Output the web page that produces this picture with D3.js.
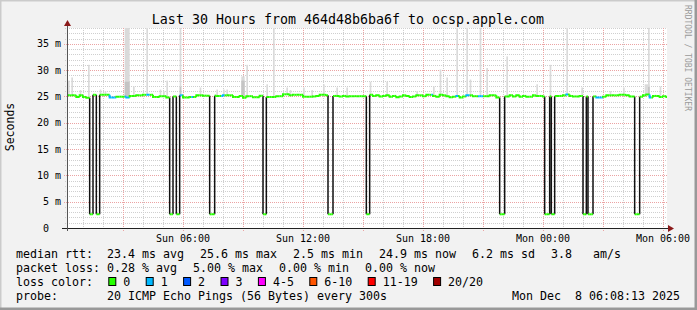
<!DOCTYPE html>
<html>
<head>
<meta charset="utf-8">
<script src="https://cdn.jsdelivr.net/npm/d3@7"></script>
<style>
  html, body { margin: 0; padding: 0; background: #fff; }
  svg { display: block; }
  text { font-family: "DejaVu Sans Mono", monospace; fill: #000; white-space: pre; }
</style>
</head>
<body>
<svg id="chart" width="697" height="310"></svg>
<script>
const parseT = d3.timeParse("%Y-%m-%d %H:%M");

const titleText = "Last 30 Hours from 464d48b6ba6f to ocsp.apple.com";
const windowStart = "2025-12-07 00:12";
const windowEnd = "2025-12-08 06:12";
const yMax = 38;
const yTicks = [0, 5, 10, 15, 20, 25, 30, 35];

// median rtt in ms, 10 minute buckets, one row per hour from Sun 00:00
const medianRows = [
  [25.2, 25.2, 25.2, 25.2, 24.9, 25.2],
  [24.9, 24.75, 25.0, 25.3, 25.2, 25.3],
  [25.3, 25.3, 24.8, 24.8, 24.95, 24.95],
  [24.95, 24.8, 25.1, 25.1, 25.2, 25.2],
  [25.3, 25.3, 25.3, 24.9, 24.9, 25.05],
  [25.05, 24.8, 25.0, 25.0, 25.0, 25.2],
  [24.8, 24.8, 24.9, 24.9, 25.2, 25.2],
  [25.15, 25.15, 25.1, 25.15, 25.1, 25.1],
  [25.2, 25.2, 25.2, 24.9, 24.9, 25.1],
  [24.75, 25.05, 25.05, 24.85, 24.85, 25.15],
  [25.0, 24.9, 24.9, 24.9, 25.05, 25.05],
  [25.4, 25.4, 25.2, 25.3, 25.3, 25.3],
  [24.95, 24.95, 24.95, 25.0, 25.1, 25.3],
  [25.3, 25.2, 25.1, 25.1, 25.1, 25.0],
  [25.1, 25.0, 25.05, 25.05, 25.05, 25.05],
  [25.05, 25.05, 25.3, 25.1, 25.2, 25.0],
  [25.1, 25.2, 24.95, 25.1, 24.85, 25.0],
  [25.2, 25.1, 24.9, 25.0, 25.2, 25.2],
  [25.05, 25.3, 25.3, 25.1, 24.95, 25.3],
  [25.2, 25.05, 24.85, 24.95, 25.1, 24.8],
  [25.0, 25.2, 25.2, 25.05, 25.05, 25.05],
  [25.05, 25.05, 25.2, 25.2, 24.8, 25.0],
  [25.0, 25.0, 25.2, 25.0, 25.2, 24.95],
  [25.1, 24.95, 24.95, 25.2, 25.1, 25.1],
  [25.0, 25.0, 25.0, 25.05, 25.1, 25.1],
  [25.2, 25.35, 25.1, 25.0, 25.0, 25.1],
  [25.0, 25.0, 25.0, 25.0, 24.8, 24.8],
  [24.95, 25.2, 25.2, 25.2, 25.2, 25.3],
  [25.3, 25.2, 25.0, 25.0, 24.95, 24.95],
  [25.2, 25.35, 24.8, 25.1, 25.1, 24.9],
  [25.05, 24.9]
];

// short periods where the median fell to ~2.6 ms
const dropLevel = 2.6;
const drops = [
  ["2025-12-07 01:20", "2025-12-07 01:30"],
  ["2025-12-07 01:40", "2025-12-07 01:50"],
  ["2025-12-07 05:20", "2025-12-07 05:30"],
  ["2025-12-07 05:40", "2025-12-07 05:50"],
  ["2025-12-07 07:20", "2025-12-07 07:35"],
  ["2025-12-07 10:00", "2025-12-07 10:10"],
  ["2025-12-07 13:15", "2025-12-07 13:30"],
  ["2025-12-07 15:10", "2025-12-07 15:20"],
  ["2025-12-07 21:50", "2025-12-07 22:05"],
  ["2025-12-08 00:05", "2025-12-08 00:20"],
  ["2025-12-08 00:25", "2025-12-08 00:35"],
  ["2025-12-08 02:00", "2025-12-08 02:10"],
  ["2025-12-08 02:15", "2025-12-08 02:30"],
  ["2025-12-08 04:35", "2025-12-08 04:50"]
];

// lost pings (of 20) per period
const lossEvents = [
  ["2025-12-07 02:20", "2025-12-07 02:40", 1],
  ["2025-12-07 03:05", "2025-12-07 03:20", 1],
  ["2025-12-07 04:10", "2025-12-07 04:20", 1],
  ["2025-12-07 05:50", "2025-12-07 06:00", 1],
  ["2025-12-07 06:25", "2025-12-07 06:30", 1],
  ["2025-12-07 07:55", "2025-12-07 08:05", 1],
  ["2025-12-07 18:25", "2025-12-07 18:30", 1],
  ["2025-12-07 19:40", "2025-12-07 19:45", 1],
  ["2025-12-07 20:10", "2025-12-07 20:20", 1],
  ["2025-12-07 20:45", "2025-12-07 21:00", 1],
  ["2025-12-08 01:10", "2025-12-08 01:15", 1],
  ["2025-12-08 02:40", "2025-12-08 03:00", 1],
  ["2025-12-08 05:20", "2025-12-08 05:25", 1]
];

// smoke: [time, minutes, highest ping ms]
const smoke = [
  ["2025-12-07 00:10", 10, 28.0], ["2025-12-07 00:25", 5, 28.6], ["2025-12-07 00:50", 5, 26.2],
  ["2025-12-07 01:15", 5, 31.0], ["2025-12-07 01:50", 5, 26.3], ["2025-12-07 02:05", 5, 26.0],
  ["2025-12-07 03:05", 15, 40], ["2025-12-07 03:30", 5, 26.9], ["2025-12-07 04:10", 5, 40],
  ["2025-12-07 04:50", 5, 26.3], ["2025-12-07 05:00", 5, 26.0], ["2025-12-07 05:10", 5, 28.0],
  ["2025-12-07 05:50", 5, 40], ["2025-12-07 06:50", 5, 26.7], ["2025-12-07 07:40", 5, 26.3],
  ["2025-12-07 08:00", 5, 26.3], ["2025-12-07 08:10", 5, 26.3], ["2025-12-07 08:55", 10, 28.8],
  ["2025-12-07 09:10", 5, 31.0], ["2025-12-07 10:10", 5, 27.3], ["2025-12-07 10:30", 5, 40],
  ["2025-12-07 11:10", 5, 26.7], ["2025-12-07 11:20", 5, 26.2], ["2025-12-07 12:00", 5, 26.7],
  ["2025-12-07 12:25", 5, 26.2], ["2025-12-07 13:00", 5, 27.3], ["2025-12-07 13:40", 5, 26.7],
  ["2025-12-07 14:10", 5, 26.7], ["2025-12-07 15:20", 5, 27.8], ["2025-12-07 16:10", 5, 27.8],
  ["2025-12-07 17:40", 5, 26.0], ["2025-12-07 18:30", 5, 26.9], ["2025-12-07 18:50", 5, 30.1],
  ["2025-12-07 19:10", 5, 28.6], ["2025-12-07 19:40", 5, 40], ["2025-12-07 20:10", 5, 40],
  ["2025-12-07 20:20", 5, 28.2], ["2025-12-07 20:50", 5, 40], ["2025-12-07 21:10", 5, 30.4],
  ["2025-12-07 22:10", 5, 32.6], ["2025-12-07 23:40", 5, 27.3], ["2025-12-08 00:20", 5, 31.0],
  ["2025-12-08 01:10", 5, 40], ["2025-12-08 01:55", 5, 26.7], ["2025-12-08 03:20", 5, 26.0],
  ["2025-12-08 04:00", 5, 26.7], ["2025-12-08 05:05", 15, 27.3], ["2025-12-08 05:15", 5, 40],
  ["2025-12-08 05:50", 5, 26.9]
];

// denser core of the smoke where pings spread most
const smokeCore = [
  ["2025-12-07 03:05", 15, 27.8], ["2025-12-07 08:55", 10, 28.0], ["2025-12-07 05:50", 5, 26.8],
  ["2025-12-08 05:15", 5, 26.8]
];

const lossClasses = ["0", "1", "2", "3", "4-5", "6-10", "11-19", "20/20"];
const lossColors = ["#26ff00", "#00b8ff", "#0059ff", "#7e00ff", "#ff00ff", "#ff5500", "#ff0000", "#a10000"];

const rttItems = ["median rtt:  23.4 ms avg", "25.6 ms max", "2.5 ms min", "24.9 ms now", "6.2 ms sd", "3.8   am/s"];
const lossItems = ["packet loss: 0.28 % avg", "5.00 % max", "0.00 % min", "0.00 % now"];
const probeLabel = "probe:";
const probeText = "20 ICMP Echo Pings (56 Bytes) every 300s";
const stampText = "Mon Dec  8 06:08:13 2025";

// ---- build the 5 minute series
const step = 5;
const dayStart = parseT("2025-12-07 00:00");
const dropSpans = drops.map(d => [parseT(d[0]), parseT(d[1])]);
const lossSpans = lossEvents.map(d => [parseT(d[0]), parseT(d[1]), d[2]]);
const series = [];
for (let t = parseT("2025-12-07 00:10"); t <= parseT("2025-12-08 06:10"); t = d3.timeMinute.offset(t, step)) {
  const k = Math.floor((t - dayStart) / 600000);
  let v = medianRows[Math.floor(k / 6)][k % 6];
  if (dropSpans.some(s => t >= s[0] && t < s[1])) v = dropLevel;
  const l = lossSpans.find(s => t >= s[0] && t < s[1]);
  series.push({ t: t, v: v, loss: l ? l[2] : 0 });
}
const byTime = new Map(series.map(d => [+d.t, d]));

const svg = d3.select("#chart");
const W = 697, H = 310;
const margin = { left: 67, top: 28, right: 30, bottom: 82 };
const pw = W - margin.left - margin.right, ph = H - margin.top - margin.bottom;

const x = d3.scaleTime().domain([parseT(windowStart), parseT(windowEnd)]).range([margin.left, margin.left + pw]);
const y = d3.scaleLinear().domain([0, yMax]).range([margin.top + ph, margin.top]);
const lossColor = d3.scaleThreshold().domain([1, 2, 3, 4, 6, 11, 20]).range(lossColors);
const px = v => Math.round(v) + 0.5;

// background and 3d frame
svg.append("rect").attr("width", W).attr("height", H).attr("fill", "#f2f2f2");
svg.append("path").attr("d", `M0,${H}V0H${W}`).attr("fill", "none").attr("stroke", "#cbcbcb").attr("stroke-width", 3);
svg.append("path").attr("d", `M0,${H}H${W}V0`).attr("fill", "none").attr("stroke", "#999").attr("stroke-width", 5);

svg.append("rect").attr("x", margin.left).attr("y", margin.top).attr("width", pw).attr("height", ph).attr("fill", "#fff");
svg.append("clipPath").attr("id", "clip").append("rect")
  .attr("x", margin.left).attr("y", margin.top).attr("width", pw).attr("height", ph);

// grid
const grid = svg.append("g").attr("fill", "none").attr("stroke-dasharray", "1,1");
const hours = d3.timeHour.range(x.domain()[0], x.domain()[1]);
grid.selectAll(".vmin").data(hours.filter(h => h.getHours() % 3 !== 0)).join("line")
  .attr("x1", d => px(x(d))).attr("x2", d => px(x(d)))
  .attr("y1", margin.top).attr("y2", margin.top + ph + 2).attr("stroke", "#cfcfcf");
const minorY = d3.range(1, yMax + 1).filter(v => v % 5 !== 0);
grid.selectAll(".hmin").data(minorY).join("line")
  .attr("x1", margin.left - 2).attr("x2", margin.left + pw)
  .attr("y1", d => px(y(d))).attr("y2", d => px(y(d))).attr("stroke", "#cfcfcf");
grid.selectAll(".vmaj").data(hours.filter(h => h.getHours() % 3 === 0)).join("line")
  .attr("x1", d => px(x(d))).attr("x2", d => px(x(d)))
  .attr("y1", margin.top).attr("y2", margin.top + ph + 3).attr("stroke", "#eba3a3");
grid.selectAll(".hmaj").data(yTicks.filter(v => v > 0)).join("line")
  .attr("x1", margin.left - 3).attr("x2", margin.left + pw)
  .attr("y1", d => px(y(d))).attr("y2", d => px(y(d))).attr("stroke", "#eba3a3");

const plot = svg.append("g").attr("clip-path", "url(#clip)");

// smoke
const smokeBars = (data, fill) => plot.append("g").selectAll("rect").data(data).join("rect")
  .attr("x", d => x(parseT(d[0])))
  .attr("width", d => x(d3.timeMinute.offset(parseT(d[0]), d[1])) - x(parseT(d[0])))
  .attr("y", d => y(d[2]))
  .attr("height", d => {
    const base = byTime.get(+parseT(d[0]));
    return Math.max(0, y(base ? base.v : 25) - y(d[2]));
  })
  .attr("fill", fill);
smokeBars(smoke, "#dadada");
smokeBars(smokeCore, "#c4c4c4");

// black edges where the median jumps down and back
const edges = d3.path();
series.forEach((d, i) => {
  if (i > 0 && Math.abs(d.v - series[i - 1].v) > 5) {
    edges.moveTo(x(d.t), y(series[i - 1].v));
    edges.lineTo(x(d.t), y(d.v));
  }
});
plot.append("path").attr("d", edges.toString()).attr("fill", "none").attr("stroke", "#111").attr("stroke-width", 1.5);

// median coloured by loss
plot.selectAll(".med").data(series).join("path")
  .attr("d", (d, i) => {
    const p = d3.path();
    const x0 = x(d.t), x1 = x(d3.timeMinute.offset(d.t, step));
    const prev = i > 0 ? series[i - 1].v : d.v;
    if (Math.abs(prev - d.v) <= 5) { p.moveTo(x0, y(prev)); p.lineTo(x0, y(d.v)); }
    else p.moveTo(x0, y(d.v));
    p.lineTo(x1, y(d.v));
    return p.toString();
  })
  .attr("fill", "none").attr("stroke", d => lossColor(d.loss)).attr("stroke-width", 2);

// axes
const axisY = margin.top + ph;
svg.append("line").attr("x1", margin.left - 5).attr("x2", margin.left + pw + 2)
  .attr("y1", axisY + 0.5).attr("y2", axisY + 0.5).attr("stroke", "#222");
svg.append("line").attr("x1", margin.left + 0.5).attr("x2", margin.left + 0.5)
  .attr("y1", axisY + 3).attr("y2", margin.top - 4).attr("stroke", "#555");
svg.append("path").attr("fill", "#8b1a1a")
  .attr("d", `M${margin.left + pw + 1},${axisY - 3}L${margin.left + pw + 7},${axisY + 0.5}L${margin.left + pw + 1},${axisY + 4}Z`);
svg.append("path").attr("fill", "#8b1a1a")
  .attr("d", `M${margin.left - 3},${margin.top - 2}L${margin.left + 0.5},${margin.top - 8}L${margin.left + 4},${margin.top - 2}Z`);

svg.append("g").selectAll("text").data(yTicks).join("text")
  .attr("x", margin.left - 6).attr("y", d => y(d)).attr("dy", "0.36em")
  .attr("text-anchor", "end").style("font-size", "10px")
  .text(d => d === 0 ? "0  " : d + " m");

const fmt = d3.timeFormat("%a %H:%M");
svg.append("g").selectAll("text").data(d3.timeHour.every(6).range(x.domain()[0], d3.timeMinute.offset(x.domain()[1], 1))).join("text")
  .attr("x", d => x(d)).attr("y", axisY + 14)
  .attr("text-anchor", "middle").style("font-size", "10px")
  .text(d => fmt(d));

// titles
svg.append("text").attr("x", 348).attr("y", 23.5).attr("text-anchor", "middle")
  .style("font-size", "13.3px").text(titleText);
svg.append("text").attr("transform", "translate(14,127) rotate(-90)").attr("text-anchor", "middle")
  .style("font-size", "11.5px").text("Seconds");
svg.append("text").attr("transform", "translate(685,5) rotate(90)")
  .style("font-size", "8px").style("fill", "#9a9a9a").text("RRDTOOL / TOBI OETIKER");

// legend: rrdtool style, items separated by a fixed gap
const lg = svg.append("g").style("font-size", "11.63px");
const cw = 7, gap = 16, left = 16, col2 = left + 13 * cw;
const rows = [258, 272, 286, 299.5];
const put = (xx, yy, s, anchor) => lg.append("text").attr("x", xx).attr("y", yy)
  .attr("text-anchor", anchor || "start").text(s);
const flow = (items, yy) => {
  let cx = left;
  items.forEach(s => { put(cx, yy, s); cx += s.length * cw + gap; });
};
flow(rttItems, rows[0]);
flow(lossItems, rows[1]);

put(left, rows[2], "loss color:");
let bx = col2 + 1.3;
lossClasses.forEach((c, i) => {
  lg.append("rect").attr("x", bx + 0.5).attr("y", rows[2] - 8.5).attr("width", 7).attr("height", 8)
    .attr("fill", lossColors[i]).attr("stroke", "#000").attr("stroke-width", 1);
  put(bx + 15, rows[2], c);
  bx += 15 + c.length * cw + 15.4;
});
put(left, rows[3], probeLabel);
put(col2, rows[3], probeText);
put(680, rows[3], stampText, "end");
</script>
</body>
</html>
